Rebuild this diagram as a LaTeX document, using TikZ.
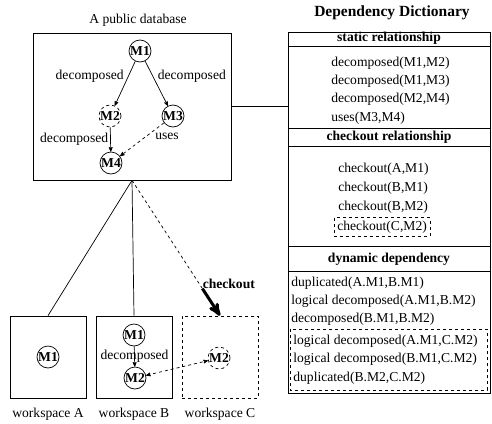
\documentclass[tikz,border=0pt]{standalone}
\usepackage{fontspec}
\setmainfont{Liberation Serif}
\usetikzlibrary{arrows}
\usetikzlibrary{calc}

\begin{document}
\begin{tikzpicture}[x=1pt, y=-1pt, line width=0.7pt, font=\fontsize{13.6}{15}\selectfont,
  module/.style={circle, draw, inner sep=0pt, minimum size=22pt, font=\fontsize{13.6}{15}\selectfont\bfseries},
  space/.style={draw, minimum width=76pt, minimum height=82pt, inner sep=0pt},
  dep/.style={->, >=stealth'},
  entry/.style={anchor=west, inner sep=0pt},
  head/.style={inner sep=0pt, font=\fontsize{13.6}{15}\selectfont\bfseries}]
\useasboundingbox (0,0) rectangle (492,423);

% public database
\node[draw, minimum width=198pt, minimum height=147pt, inner sep=0pt] (db) at (132,106.5) {};
\node (dbtitle) at (138,20) {A public database};
\node[module] (m1) at (140,51) {M1};
\node[module, dashed] (m2) at (110,116) {M2};
\node[module] (m3) at (173,116) {M3};
\node[module] (m4) at (111,163) {M4};
\draw[dep] (m1) -- node[above left, inner sep=1pt] {decomposed} (m2);
\draw[dep] (m1) -- node[above right, inner sep=1pt] {decomposed} (m3);
\draw[dep] (m2) -- node[left, inner sep=2pt] {decomposed} (m4);
\draw[dep, dashed] (m3) -- node[pos=0.25, below right, inner sep=2pt] {uses} (m4);

% dependency dictionary
\node[draw, minimum width=202pt, minimum height=361pt, inner sep=0pt] (dict) at (389,212.5) {};
\node[font=\fontsize{15.5}{17}\selectfont\bfseries] (dicttitle) at (392,13) {Dependency Dictionary};
\foreach \y in {46,128,146,246,271}
 \draw (288,\y) --++(202,0);
\node[head] (static) at (389,38) {static relationship};
\node[head] (checkout) at (389,137) {checkout relationship};
\node[head] (dynamic) at (389,259) {dynamic dependency};
\foreach \t [count=\i, evaluate=\i as \y using 44.7+18.3*\i] in {{decomposed(M1,M2)},{decomposed(M1,M3)},{decomposed(M2,M4)},{uses(M3,M4)}}
 \node[entry] at (331,\y) {\t};
\foreach \t [count=\i, evaluate=\i as \y using 151+18.7*\i] in {{checkout(A,M1)},{checkout(B,M1)},{checkout(B,M2)}}
 \node[entry] at (338,\y) {\t};
\node[entry, draw, dashed, inner sep=3pt] (cc) at (334,227) {checkout(C,M2)};
\foreach \t [count=\i, evaluate=\i as \y using 265+18*\i] in {{duplicated(A.M1,B.M1)},{logical decomposed(A.M1,B.M2)},{decomposed(B.M1,B.M2)}}
 \node[entry] at (291,\y) {\t};
\draw[dashed] (290,329) rectangle (487,390);
\foreach \t [count=\i, evaluate=\i as \y using 323+18.3*\i] in {{logical decomposed(A.M1,C.M2)},{logical decomposed(B.M1,C.M2)},{duplicated(B.M2,C.M2)}}
 \node[entry] at (293,\y) {\t};
\draw (db.east) -- (db.east -| dict.west);

% workspaces
\node[space] (wsA) at (48,357) {};
\node[space] (wsB) at (134,357) {};
\node[space, dashed] (wsC) at (220,357) {};
\node[below=6pt] at (wsA.south) {workspace A};
\node[below=6pt] at (wsB.south) {workspace B};
\node[below=6pt] at (wsC.south) {workspace C};
\node[module] (a1) at (48,357) {M1};
\node[module] (b1) at (134,335) {M1};
\node[module] (b2) at (135,378) {M2};
\node[module, dashed] (c2) at (219,358) {M2};
\draw[dep] (b1) -- node[inner sep=0pt] {decomposed} (b2);
\draw[dep, <->, dashed] (b2) -- (c2);

% checkout
\draw (db.south) -- (wsA.north);
\draw (db.south) -- (wsB.north);
\draw[dashed] (db.south) -- (wsC.north);
\coordinate (co) at ($(db.south)!0.8!(wsC.north)$);
\draw[line width=3pt, ->, >=stealth'] (co) -- (wsC.north);
\node[head, anchor=south west] at (co) {checkout};
\end{tikzpicture}
\end{document}
